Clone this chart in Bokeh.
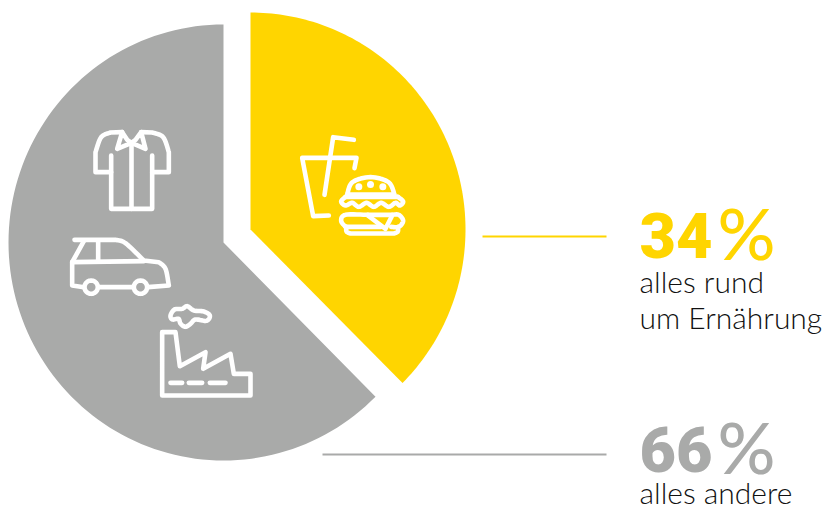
import math
from bokeh.plotting import figure
from bokeh.models import Range1d
from bokeh.core.properties import value
from bokeh.embed import file_html
from bokeh.resources import INLINE

# Printed labels
labels = ["34", "66"]
captions = [["alles rund", "um Ernährung"], ["alles andere"]]
# Slice shares as actually drawn in the picture (135 and 225 degrees, not the printed 34/66)
drawn_shares = [37.5, 62.5]
colors = ["#FFD500", "#A9AAA9"]
text_dark = "#111111"

W, H = 824, 508
p = figure(width=W, height=H, output_backend="svg", toolbar_location=None,
           x_range=Range1d(0, W), y_range=Range1d(0, H), min_border=0,
           outline_line_color=None, background_fill_alpha=0, border_fill_alpha=0)
p.axis.visible = False
p.grid.visible = False

def Y(y):
    return 508 - y

# --- pie: the picture's slices are very slightly taller than wide, so they are patches
def slice_outline(cx, cy, rx, ry, a0, a1, steps=120):
    xs, ys = [cx], [Y(cy)]
    for i in range(steps + 1):
        a = a0 + (a1 - a0) * i / steps
        xs.append(cx + rx * math.cos(a))
        ys.append(Y(cy) + ry * math.sin(a))
    return xs, ys

start = math.pi / 2
a_yellow = drawn_shares[0] / 100 * 2 * math.pi
a_gray = drawn_shares[1] / 100 * 2 * math.pi
xs, ys = slice_outline(250, 229, 215, 217, start, start - a_yellow)
p.patch(xs, ys, fill_color=colors[0], line_color=None)
xs, ys = slice_outline(223, 242, 215, 218, start, start + a_gray)
p.patch(xs, ys, fill_color=colors[1], line_color=None)

# --- leaders
p.line([482, 606], [Y(236), Y(236)], line_color=colors[0], line_width=2)
p.line([322, 606], [Y(454), Y(454)], line_color=colors[1], line_width=2)

# --- texts (the svg text sits about 0.4 em low with the alphabetic baseline)
def txt(x, y, s, size, color, font, style="normal"):
    p.text([x], [Y(y - 0.4 * size)], text=[s], text_font=value(font), text_font_size=f"{size}px",
           text_color=color, text_baseline="alphabetic", text_align="left", text_font_style=style)

txt(639, 260, labels[0], 63, colors[0], "Roboto Black", "bold")
txt(717, 260, "%", 72, colors[0], "Lato Medium")
txt(639, 474, labels[1], 63, colors[1], "Roboto Black", "bold")
txt(717, 474, "%", 72, colors[1], "Lato Medium")
txt(639, 292, captions[0][0], 30, text_dark, "Lato Light")
txt(639, 328, captions[0][1], 30, text_dark, "Lato Light")
txt(639, 503, captions[1][0], 30, text_dark, "Lato Light")

# --- icons (decoration): outlines traced in zoomed-crop coordinates
def smooth(pts, closed=False, n=8):
    out = []
    P = list(pts)
    m = len(P)
    segs = m if closed else m - 1
    for i in range(segs):
        p0 = P[(i - 1) % m] if (closed or i > 0) else P[0]
        p1 = P[i]
        p2 = P[(i + 1) % m]
        p3 = P[(i + 2) % m] if (closed or i + 2 < m) else P[-1]
        for k in range(n):
            t = k / n
            out.append(tuple(0.5 * (2 * p1[d] + (p2[d] - p0[d]) * t
                     + (2 * p0[d] - 5 * p1[d] + 4 * p2[d] - p3[d]) * t * t
                     + (3 * p1[d] - p0[d] - 3 * p2[d] + p3[d]) * t ** 3) for d in (0, 1)))
    out.append(P[0] if closed else P[-1])
    return out

def draw(ox, oy, paths, width=4.6):
    xs = [[ox + a / 3 for a, _ in path] for path in paths]
    ys = [[Y(oy + b / 3) for _, b in path] for path in paths]
    p.multi_line(xs, ys, line_color="white", line_width=width,
                 line_cap="round", line_join="round")

def ring(cx, cy, r):
    return [(cx + r * math.cos(i * math.pi / 12), cy + r * math.sin(i * math.pi / 12)) for i in range(25)]

shirt = [
    [(185, 65), (150, 66)] + smooth([(150, 66), (122, 80), (105, 125)])[1:] + [(105, 185), (152, 185)],
    [(152, 135), (152, 295), (275, 295), (275, 135)],
    [(275, 185), (325, 185), (325, 125)] + smooth([(325, 125), (308, 80), (275, 66)])[1:] + [(242, 65)],
    [(185, 65), (170, 115), (213, 97), (255, 115), (242, 65), (225, 88), (213, 97), (200, 88), (185, 65)],
    [(213, 97), (213, 295)],
]
draw(60, 110, shirt)

car = [
    [(42, 388), (165, 388)] + smooth([(165, 388), (195, 398), (250, 450)])[1:] + [(295, 455)]
    + smooth([(295, 455), (315, 475), (325, 525)])[1:] + [(262, 530)],
    [(70, 392), (35, 455), (35, 525), (70, 530)],
    [(35, 455), (250, 452)],
    [(113, 390), (113, 452)],
    [(115, 530), (218, 530)],
    ring(92, 530, 20),
    ring(240, 530, 20),
]
draw(60, 110, car)

factory = [
    [(35, 300), (35, 110), (75, 110), (88, 212), (165, 170), (158, 220), (240, 175),
     (250, 235), (300, 235), (300, 300), (35, 300)],
    [(60, 262), (95, 262)], [(115, 262), (155, 262)], [(178, 262), (225, 262)],
    smooth([(60, 60), (72, 42), (95, 40), (110, 32), (130, 45), (160, 48), (178, 60), (168, 76),
            (135, 72), (120, 85), (104, 94), (90, 84), (84, 70), (66, 72)], closed=True),
]
draw(150, 295, factory)

food = [
    [(115, 270), (68, 272), (35, 97), (198, 97), (192, 128)],
    [(190, 43), (128, 35), (102, 208)],
    [(170, 207)] + smooth([(170, 207), (186, 170), (240, 155), (294, 170), (312, 207)])[1:] + [(170, 207)],
    smooth([(165, 214), (152, 228), (165, 240), (185, 232), (205, 244), (228, 232), (250, 244),
            (272, 232), (295, 244), (315, 232), (328, 240), (338, 228), (322, 214)]),
    [(165, 214), (322, 214)],
    smooth([(232, 268), (165, 268), (152, 286), (165, 304)]),
    [(165, 304), (272, 304)],
    smooth([(305, 268), (325, 268), (338, 286), (325, 304), (302, 304)]),
    [(232, 268), (305, 268)],
    [(232, 270), (285, 310), (304, 272)],
    smooth([(168, 304), (168, 318), (180, 324)]) + [(310, 324)] + smooth([(310, 324), (322, 318), (322, 304)]),
]
draw(290, 125, food)
p.scatter([290 + a / 3 for a in (205, 240, 277)], [Y(125 + b / 3) for b in (184, 177, 184)],
          size=7, marker="circle", fill_color="white", line_color=None)

open("out.html", "w").write(file_html(p, INLINE))
